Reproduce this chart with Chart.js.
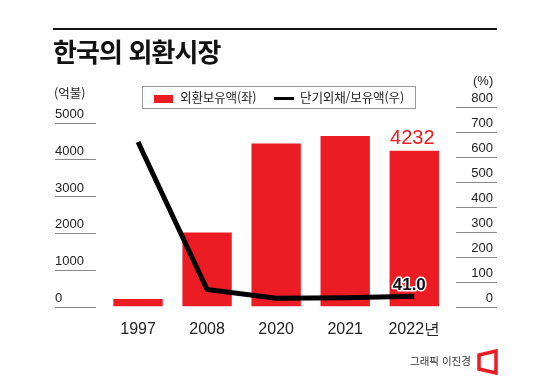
<!DOCTYPE html>
<html lang="ko">
<head>
<meta charset="utf-8">
<script src="https://cdn.jsdelivr.net/npm/chart.js@4.4.1/dist/chart.umd.min.js"></script>
<style>
  html, body { margin: 0; padding: 0; background: #fff; }
  #wrap { position: relative; width: 550px; height: 380px; overflow: hidden; font-family: "Noto Sans CJK KR", "Noto Sans", sans-serif; color: #222; }
  #chart { position: absolute; left: 0; top: 0; }
  .abs { position: absolute; white-space: nowrap; line-height: 1; }
  #rule { left: 53px; top: 28px; width: 444px; height: 2px; background: #111; }
  #title { left: 53px; top: 38px; font-size: 26px; font-weight: 700; letter-spacing: -0.9px; color: #111; }
  #unitL { left: 54px; top: 87px; font-size: 12.5px; }
  #unitR { left: 473px; top: 74px; font-size: 13px; font-family: "Liberation Sans", sans-serif; }
  #legend { left: 142px; top: 86px; width: 274px; height: 23px; border: 1px solid #999; box-sizing: border-box; }
  .sw-bar { position: absolute; left: 11px; top: 8px; width: 19px; height: 8px; background: #ec1c24; }
  .sw-line { position: absolute; left: 131px; top: 10px; width: 20px; height: 3px; background: #000; }
  .lg-t { position: absolute; top: 4px; font-size: 12.6px; line-height: 1; letter-spacing: -0.2px; }
  #credit { left: 410px; top: 356px; font-size: 10.5px; color: #333; }
  #logo { position: absolute; left: 476px; top: 349px; }
</style>
</head>
<body>
<div id="wrap">
  <canvas id="chart" width="550" height="380"></canvas>
  <div class="abs" id="rule"></div>
  <div class="abs" id="title">한국의 외환시장</div>
  <div class="abs" id="unitL">(억불)</div>
  <div class="abs" id="unitR">(%)</div>
  <div class="abs" id="legend">
    <div class="sw-bar"></div><div class="lg-t" style="left:37px">외환보유액(좌)</div>
    <div class="sw-line"></div><div class="lg-t" style="left:157px">단기외채/보유액(우)</div>
  </div>
  <div class="abs" id="credit">그래픽 이진경</div>
  <svg id="logo" width="24" height="26" viewBox="0 0 24 26">
    <polygon points="3,6 20,2 20,24 3,20" fill="none" stroke="#ec1c24" stroke-width="3.5" stroke-linejoin="miter"/>
  </svg>
</div>
<script>
const years = ['1997', '2008', '2020', '2021', '2022년'];
const reserves = [204, 2012, 4431, 4631, 4232];      // 외환보유액 (억불)
const debtRatio = [658, 68, 33, 35, 41.0];           // 단기외채/보유액 (%)
const leftTicks = [0, 1000, 2000, 3000, 4000, 5000];
const rightTicks = [0, 100, 200, 300, 400, 500, 600, 700, 800];

const RED = '#ec1c24';
const NUM_FONT = '"Liberation Sans", Arial, sans-serif';

// short rules drawn under each axis label
const underlines = {
    id: 'underlines',
    afterDraw(chart) {
        const ctx = chart.ctx;
        ctx.save();
        ctx.strokeStyle = '#8a8a8a';
        ctx.lineWidth = 1;
        const y = chart.scales.y, y1 = chart.scales.y1;
        y.ticks.forEach(t => {
            const py = Math.round(y.getPixelForValue(t.value)) + 0.5;
            ctx.beginPath(); ctx.moveTo(55, py); ctx.lineTo(96, py); ctx.stroke();
        });
        y1.ticks.forEach(t => {
            const py = Math.round(y1.getPixelForValue(t.value)) + 0.5;
            ctx.beginPath(); ctx.moveTo(456, py); ctx.lineTo(497, py); ctx.stroke();
        });
        ctx.restore();
    }
};

// value labels for the last year
const lastLabels = {
    id: 'lastLabels',
    afterDatasetsDraw(chart) {
        const ctx = chart.ctx;
        const last = years.length - 1;
        const bar = chart.getDatasetMeta(1).data[last];
        const pt = chart.getDatasetMeta(0).data[last];
        ctx.save();
        ctx.textAlign = 'center';
        ctx.textBaseline = 'alphabetic';
        ctx.font = '20px ' + NUM_FONT;
        ctx.fillStyle = RED;
        ctx.fillText(String(reserves[last]), bar.x - 2, bar.y - 6.5);

        ctx.font = 'bold 17px ' + NUM_FONT;
        ctx.lineJoin = 'round';
        ctx.lineWidth = 3;
        ctx.strokeStyle = '#fff';
        ctx.strokeText(debtRatio[last].toFixed(1), pt.x - 5, pt.y - 6.5);
        ctx.fillStyle = '#111';
        ctx.fillText(debtRatio[last].toFixed(1), pt.x - 5, pt.y - 6.5);
        ctx.restore();
    }
};

new Chart(document.getElementById('chart'), {
    type: 'bar',
    data: {
        labels: years,
        datasets: [{
            type: 'line',
            label: '단기외채/보유액(우)',
            data: debtRatio,
            yAxisID: 'y1',
            borderColor: '#000',
            borderWidth: 5,
            pointRadius: 0,
            tension: 0,
            order: 0
        }, {
            type: 'bar',
            label: '외환보유액(좌)',
            data: reserves,
            yAxisID: 'y',
            backgroundColor: RED,
            categoryPercentage: 1,
            barPercentage: 0.715,
            order: 1
        }]
    },
    options: {
        responsive: false,
        animation: false,
        devicePixelRatio: 1,
        layout: { padding: { top: 106.5, bottom: 43.5, left: 55, right: 57 } },
        plugins: { legend: { display: false }, tooltip: { enabled: false } },
        scales: {
            x: {
                grid: { display: false },
                border: { display: false },
                ticks: { color: '#222', padding: 5, font: { family: NUM_FONT, size: 16 } },
                afterFit: s => { s.height = 30; }
            },
            y: {
                position: 'left',
                min: 0,
                max: 5435,
                grid: { display: false },
                border: { display: false },
                afterBuildTicks: s => { s.ticks = leftTicks.map(v => ({ value: v })); },
                ticks: {
                    color: '#222', crossAlign: 'far', labelOffset: -8, padding: 0,
                    font: { family: NUM_FONT, size: 13 },
                    callback: v => String(v)
                },
                afterFit: s => { s.width = 48.5; }
            },
            y1: {
                position: 'right',
                min: 0,
                max: 800,
                grid: { display: false },
                border: { display: false },
                afterBuildTicks: s => { s.ticks = rightTicks.map(v => ({ value: v })); },
                ticks: {
                    color: '#222', crossAlign: 'far', labelOffset: -8, padding: 0,
                    font: { family: NUM_FONT, size: 13 },
                    callback: v => String(v)
                },
                afterFit: s => { s.width = 44.2; }
            }
        }
    },
    plugins: [underlines, lastLabels]
});
</script>
</body>
</html>
